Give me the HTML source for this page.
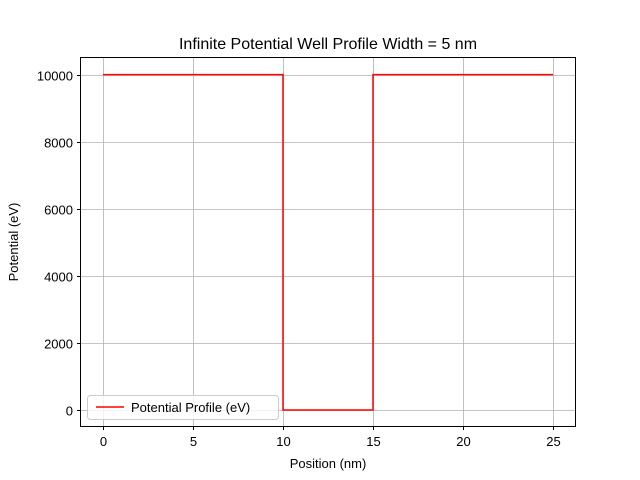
<!DOCTYPE html>
<html><head><meta charset="utf-8"><style>body{margin:0;background:#fff}svg{display:block;font-family:"Liberation Sans","DejaVu Sans",sans-serif}</style></head>
<body>
<svg id="chart" width="640" height="480">
<rect width="640" height="480" fill="#fff"/>
<text x="328" y="49" text-anchor="middle" font-size="16">Infinite Potential Well Profile Width = 5 nm</text>
<g id="grid"></g><g id="plot"></g><g id="axes"></g>
<rect x="80.5" y="57.5" width="495" height="369" fill="none" stroke="#000" stroke-width="1"/>
<text x="328" y="468" text-anchor="middle" font-size="13">Position (nm)</text>
<text transform="translate(18,242) rotate(-90)" text-anchor="middle" font-size="13">Potential (eV)</text>
<g>
<rect x="87.5" y="395.5" width="191" height="24" rx="3" fill="#fff" fill-opacity="0.8" stroke="#ccc"/>
<line x1="96" y1="407" x2="124" y2="407" stroke="red" stroke-width="1.5"/>
<text x="131" y="412" font-size="13">Potential Profile (eV)</text>
</g>
</svg>
<script>
const xTicks=[0,5,10,15,20,25];
const yTicks=[0,2000,4000,6000,8000,10000];
const xs=[0,10,10,15,15,25];
const ys=[10000,10000,0,0,10000,10000];
const NS="http://www.w3.org/2000/svg";
const X=v=>80.5+(v+1.25)*18, Y=v=>426.8-(v+500)*0.033545;
function mk(t,a,p){const e=document.createElementNS(NS,t);for(const k in a)e.setAttribute(k,a[k]);p.appendChild(e);return e;}
const g=document.getElementById('grid'),ax=document.getElementById('axes'),pl=document.getElementById('plot');
xTicks.forEach(v=>{const x=Math.round(X(v))+0.5;
const l=mk('line',{x1:x,x2:x,y1:57.5,y2:426.5,stroke:'#b0b0b0','stroke-width':0.8},g);


mk('line',{x1:x,x2:x,y1:426.5,y2:430,stroke:'#000'},ax);
const t=mk('text',{x:x,y:446,'text-anchor':'middle','font-size':13},ax);t.textContent=v;

});
yTicks.forEach(v=>{const y=Math.round(Y(v))+0.5;
const l=mk('line',{x1:80.5,x2:575.5,y1:y,y2:y,stroke:'#b0b0b0','stroke-width':0.8},g);


mk('line',{x1:77,x2:80.5,y1:y,y2:y,stroke:'#000'},ax);
const t=mk('text',{x:73,y:y+5,'text-anchor':'end','font-size':13},ax);t.textContent=v;

});
const p=mk('polyline',{points:xs.map((x,i)=>X(x)+','+Y(ys[i])).join(' '),fill:'none',stroke:'red','stroke-width':1.5},pl);


</script>
</body></html>
